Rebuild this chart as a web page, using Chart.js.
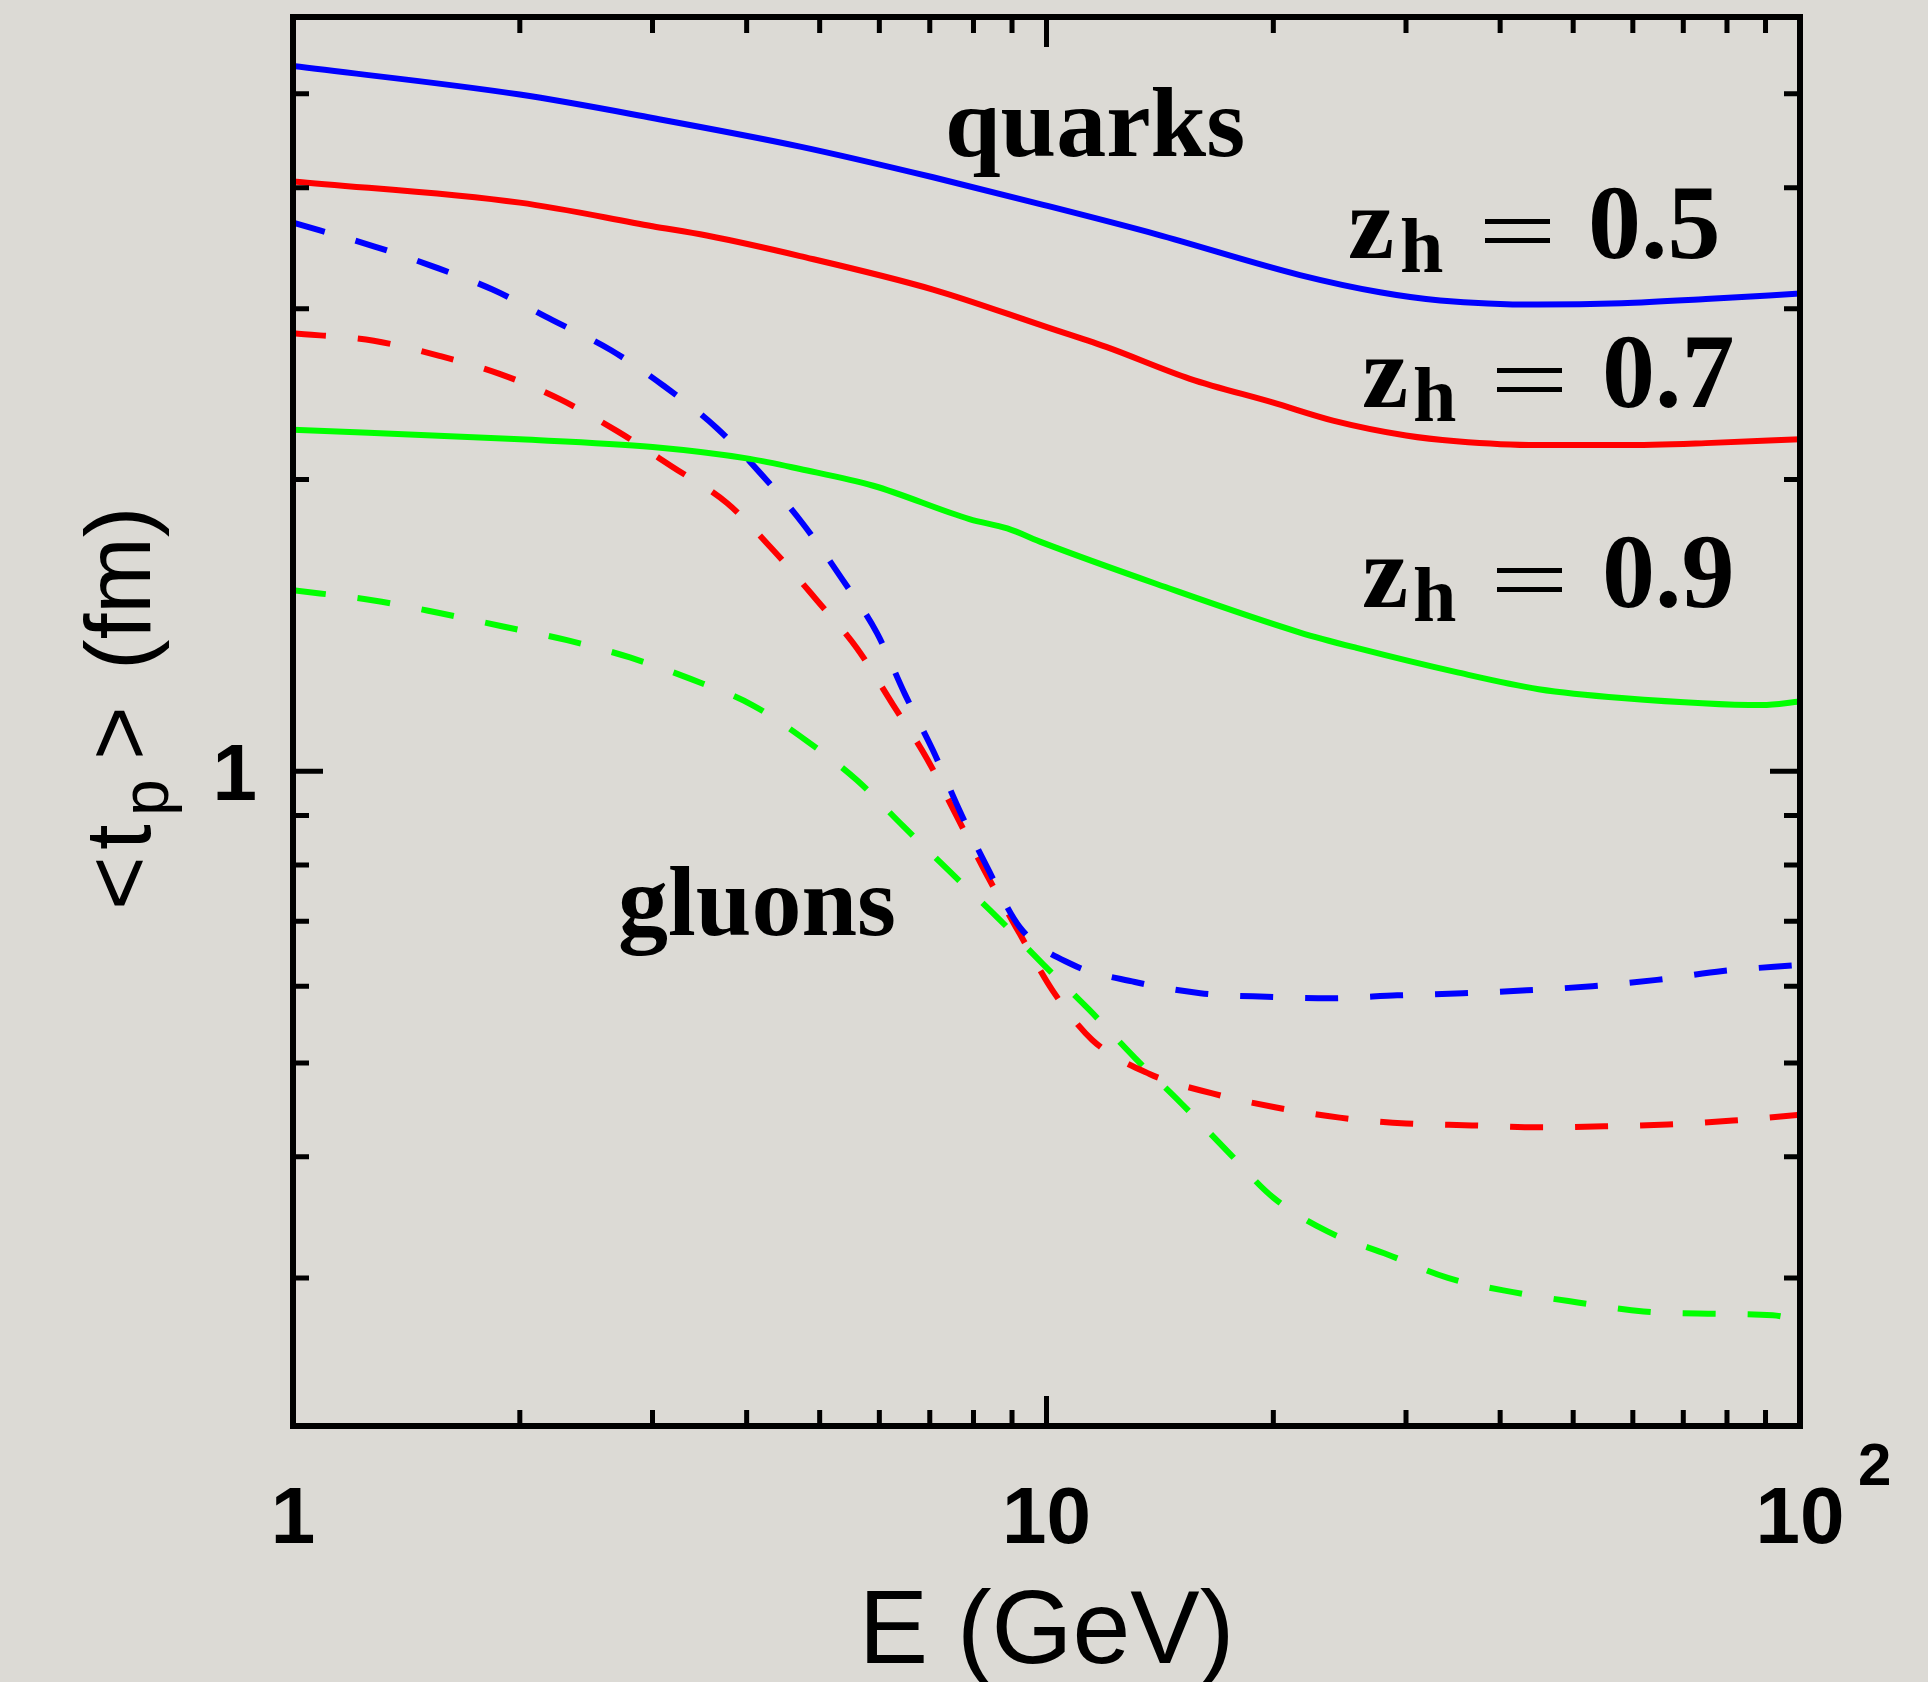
<!DOCTYPE html>
<html>
<head>
<meta charset="utf-8">
<title>formation time</title>
<script src="https://cdn.jsdelivr.net/npm/chart.js@4.4.1/dist/chart.umd.min.js"></script>
<style>
    html, body { margin: 0; padding: 0; background: #dcdad5; }
    #wrap { width: 1928px; height: 1682px; }
</style>
</head>
<body>
<div id="wrap"><canvas id="tpChart" width="1928" height="1682"></canvas></div>
<script>
// E (GeV) and <t_p> (fm), one pair of arrays per curve
const eQuark05 = [1, 2, 3, 4.71, 7.07, 9.9, 14, 21.7, 27.7, 33.3, 44.9, 58, 75, 100];
const tQuark05 = [5.34, 4.99, 4.72, 4.41, 4.10, 3.84, 3.58, 3.25, 3.12, 3.06, 3.03, 3.04, 3.07, 3.11];

const eQuark07 = [1, 2, 3, 3.54, 4.71, 7.07, 9.9, 12, 15.5, 20, 24, 30, 35, 44.8, 58, 75, 100];
const tQuark07 = [4.06, 3.86, 3.65, 3.57, 3.40, 3.14, 2.88, 2.74, 2.54, 2.40, 2.30, 2.22, 2.19, 2.17, 2.17, 2.18, 2.20];

const eQuark09 = [1, 2, 3, 4.04, 4.71, 5.89, 7.9, 8.87, 9.9, 14, 21.7, 25.8, 35, 45, 58, 89, 100];
const tQuark09 = [2.25, 2.20, 2.16, 2.10, 2.05, 1.97, 1.82, 1.78, 1.72, 1.56, 1.39, 1.34, 1.265, 1.215, 1.19, 1.17, 1.18];

const eGluon05 = [1, 1.28, 1.53, 1.84, 2.21, 2.64, 3.10, 3.65, 4.17, 4.75, 5.35, 5.96, 6.49, 7.07, 7.68, 8.34, 9.22, 10.8, 13.1, 16, 19.6, 23.8, 29.2, 35.7, 43.4, 53, 64.6, 79, 100];
const tGluon05 = [3.68, 3.48, 3.32, 3.14, 2.92, 2.72, 2.50, 2.26, 2.03, 1.80, 1.58, 1.387, 1.20, 1.05, 0.908, 0.796, 0.690, 0.632, 0.606, 0.590, 0.585, 0.583, 0.587, 0.590, 0.594, 0.600, 0.609, 0.622, 0.631];

const eGluon07 = [1, 1.28, 1.57, 1.88, 2.26, 2.70, 3.19, 3.77, 4.34, 4.96, 5.6, 6.26, 6.94, 7.63, 8.36, 9.22, 10.2, 11.5, 13.7, 16.6, 20.1, 24.5, 30, 36.7, 44.8, 55, 66.8, 81.5, 100];
const tGluon07 = [2.83, 2.78, 2.68, 2.57, 2.42, 2.24, 2.06, 1.89, 1.69, 1.50, 1.34, 1.17, 1.03, 0.893, 0.778, 0.679, 0.593, 0.528, 0.487, 0.465, 0.450, 0.439, 0.433, 0.431, 0.429, 0.430, 0.432, 0.436, 0.442];

const eGluon09 = [1, 1.28, 1.57, 1.90, 2.31, 2.80, 3.37, 4.07, 4.81, 5.6, 6.45, 7.45, 8.63, 9.9, 11.4, 13.1, 15.1, 17.4, 20, 23.6, 28.4, 34.1, 41.6, 50.7, 62, 75.5, 92, 100];
const tGluon09 = [1.537, 1.50, 1.455, 1.41, 1.365, 1.31, 1.245, 1.17, 1.074, 0.979, 0.878, 0.787, 0.705, 0.632, 0.567, 0.506, 0.454, 0.405, 0.363, 0.335, 0.317, 0.300, 0.290, 0.283, 0.277, 0.2755, 0.2745, 0.271];

// axis ranges and ticks
const xRange = [1, 100];
const yRange = [0.211, 6.0];
const xMajorTicks = [1, 10, 100];
const xMinorTicks = [2, 3, 4, 5, 6, 7, 8, 9, 20, 30, 40, 50, 60, 70, 80, 90];
const yMajorTicks = [1];
const yMinorTicks = [0.3, 0.4, 0.5, 0.6, 0.7, 0.8, 0.9, 2, 3, 4, 5];
const xTickLabels = ['1', '10', '10'];
const yTickLabels = ['1'];

const zLabels = ['0.5', '0.7', '0.9'];


function toPoints(xs, ys) {
    return xs.map((x, i) => ({ x: x, y: ys[i] }));
}

function curve(xs, ys, color, dashed) {
    return {
        data: toPoints(xs, ys),
        borderColor: color,
        borderWidth: 6,
        borderDash: dashed ? [33, 32] : [],
        pointRadius: 0,
        fill: false,
        tension: 0,
        cubicInterpolationMode: 'monotone'
    };
}


// box, inward ticks and all the text
const framePlugin = {
    id: 'frame',
    afterDatasetsDraw(chart) {
        const ctx = chart.ctx;
        const area = chart.chartArea;
        const xs = chart.scales.x;
        const ys = chart.scales.y;

        ctx.save();
        ctx.strokeStyle = '#000';
        ctx.lineCap = 'butt';

        // ticks on all four sides
        ctx.lineWidth = 5;
        const tick = (px, len, vertical) => {
            ctx.beginPath();
            if (vertical) {
                ctx.moveTo(px, area.bottom); ctx.lineTo(px, area.bottom - len);
                ctx.moveTo(px, area.top); ctx.lineTo(px, area.top + len);
            } else {
                ctx.moveTo(area.left, px); ctx.lineTo(area.left + len, px);
                ctx.moveTo(area.right, px); ctx.lineTo(area.right - len, px);
            }
            ctx.stroke();
        };
        xMinorTicks.forEach(v => tick(xs.getPixelForValue(v), 16, true));
        xMajorTicks.forEach(v => tick(xs.getPixelForValue(v), 30, true));
        yMinorTicks.forEach(v => tick(ys.getPixelForValue(v), 16, false));
        yMajorTicks.forEach(v => tick(ys.getPixelForValue(v), 30, false));

        ctx.lineWidth = 6;
        ctx.strokeRect(area.left, area.top, area.right - area.left, area.bottom - area.top);

        ctx.fillStyle = '#000';

        // tick labels
        ctx.font = 'bold 80px "Liberation Sans", Arial, sans-serif';
        ctx.textAlign = 'center';
        ctx.textBaseline = 'alphabetic';
        xMajorTicks.forEach((v, i) => {
            ctx.fillText(xTickLabels[i], xs.getPixelForValue(v), area.bottom + 117);
        });
        ctx.font = 'bold 60px "Liberation Sans", Arial, sans-serif';
        ctx.textAlign = 'left';
        ctx.fillText('2', xs.getPixelForValue(100) + 58, area.bottom + 59);

        ctx.font = 'bold 80px "Liberation Sans", Arial, sans-serif';
        ctx.textAlign = 'right';
        yMajorTicks.forEach((v, i) => {
            ctx.fillText(yTickLabels[i], area.left - 36, ys.getPixelForValue(v) + 29);
        });

        // axis titles
        ctx.font = '104px "Liberation Sans", Arial, sans-serif';
        ctx.textAlign = 'center';
        ctx.fillText('E (GeV)', (area.left + area.right) / 2, area.bottom + 237);

        ctx.save();
        ctx.translate(150, 910);
        ctx.rotate(-Math.PI / 2);
        ctx.textAlign = 'left';
        ctx.font = '92px "Liberation Sans", Arial, sans-serif';
        ctx.fillText('<', 0, 0);
        ctx.fillText('t', 60, 0);
        ctx.font = '66px "Liberation Sans", Arial, sans-serif';
        ctx.fillText('p', 94, 18);
        ctx.font = '92px "Liberation Sans", Arial, sans-serif';
        ctx.fillText('>', 150, 0);
        ctx.fillText('(fm)', 240, 0);
        ctx.restore();

        // curve annotations
        ctx.textAlign = 'left';
        ctx.font = 'bold 100px "Liberation Serif", "Times New Roman", serif';
        ctx.fillText('quarks', 945, 156);
        ctx.fillText('gluons', 618, 935);

        const zPos = [
            { z: 1348, h: 1400, eq: 1485, num: 1588, base: 258 },
            { z: 1362, h: 1413, eq: 1497, num: 1602, base: 407 },
            { z: 1362, h: 1413, eq: 1497, num: 1602, base: 607 }
        ];
        zPos.forEach((p, i) => {
            ctx.font = 'bold 104px "Liberation Serif", "Times New Roman", serif';
            ctx.fillText('z', p.z, p.base);
            ctx.font = 'bold 78px "Liberation Serif", "Times New Roman", serif';
            ctx.fillText('h', p.h, p.base + 14);
            ctx.fillRect(p.eq, p.base - 39, 65, 5);
            ctx.fillRect(p.eq, p.base - 20, 65, 5);
            ctx.font = 'bold 106px "Liberation Serif", "Times New Roman", serif';
            ctx.fillText(zLabels[i], p.num, p.base);
        });

        ctx.restore();
    }
};


function createChart() {
    const ctx = document.getElementById('tpChart').getContext('2d');

    return new Chart(ctx, {
        type: 'line',
        data: {
            datasets: [
                curve(eQuark05, tQuark05, '#0000ff', false),
                curve(eQuark07, tQuark07, '#ff0000', false),
                curve(eQuark09, tQuark09, '#00ff00', false),
                curve(eGluon05, tGluon05, '#0000ff', true),
                curve(eGluon07, tGluon07, '#ff0000', true),
                curve(eGluon09, tGluon09, '#00ff00', true)
            ]
        },
        options: {
            responsive: false,
            animation: false,
            layout: {
                padding: { left: 293, right: 128, top: 17, bottom: 256 }
            },
            plugins: {
                legend: { display: false },
                tooltip: { enabled: false }
            },
            scales: {
                x: {
                    type: 'logarithmic',
                    min: xRange[0],
                    max: xRange[1],
                    grid: { display: false },
                    border: { display: false },
                    ticks: { display: false },
                    afterFit: s => { s.height = 0; }
                },
                y: {
                    type: 'logarithmic',
                    min: yRange[0],
                    max: yRange[1],
                    grid: { display: false },
                    border: { display: false },
                    ticks: { display: false },
                    afterFit: s => { s.width = 0; }
                }
            }
        },
        plugins: [framePlugin]
    });
}

document.addEventListener('DOMContentLoaded', () => {
    createChart();
});
</script>
</body>
</html>
